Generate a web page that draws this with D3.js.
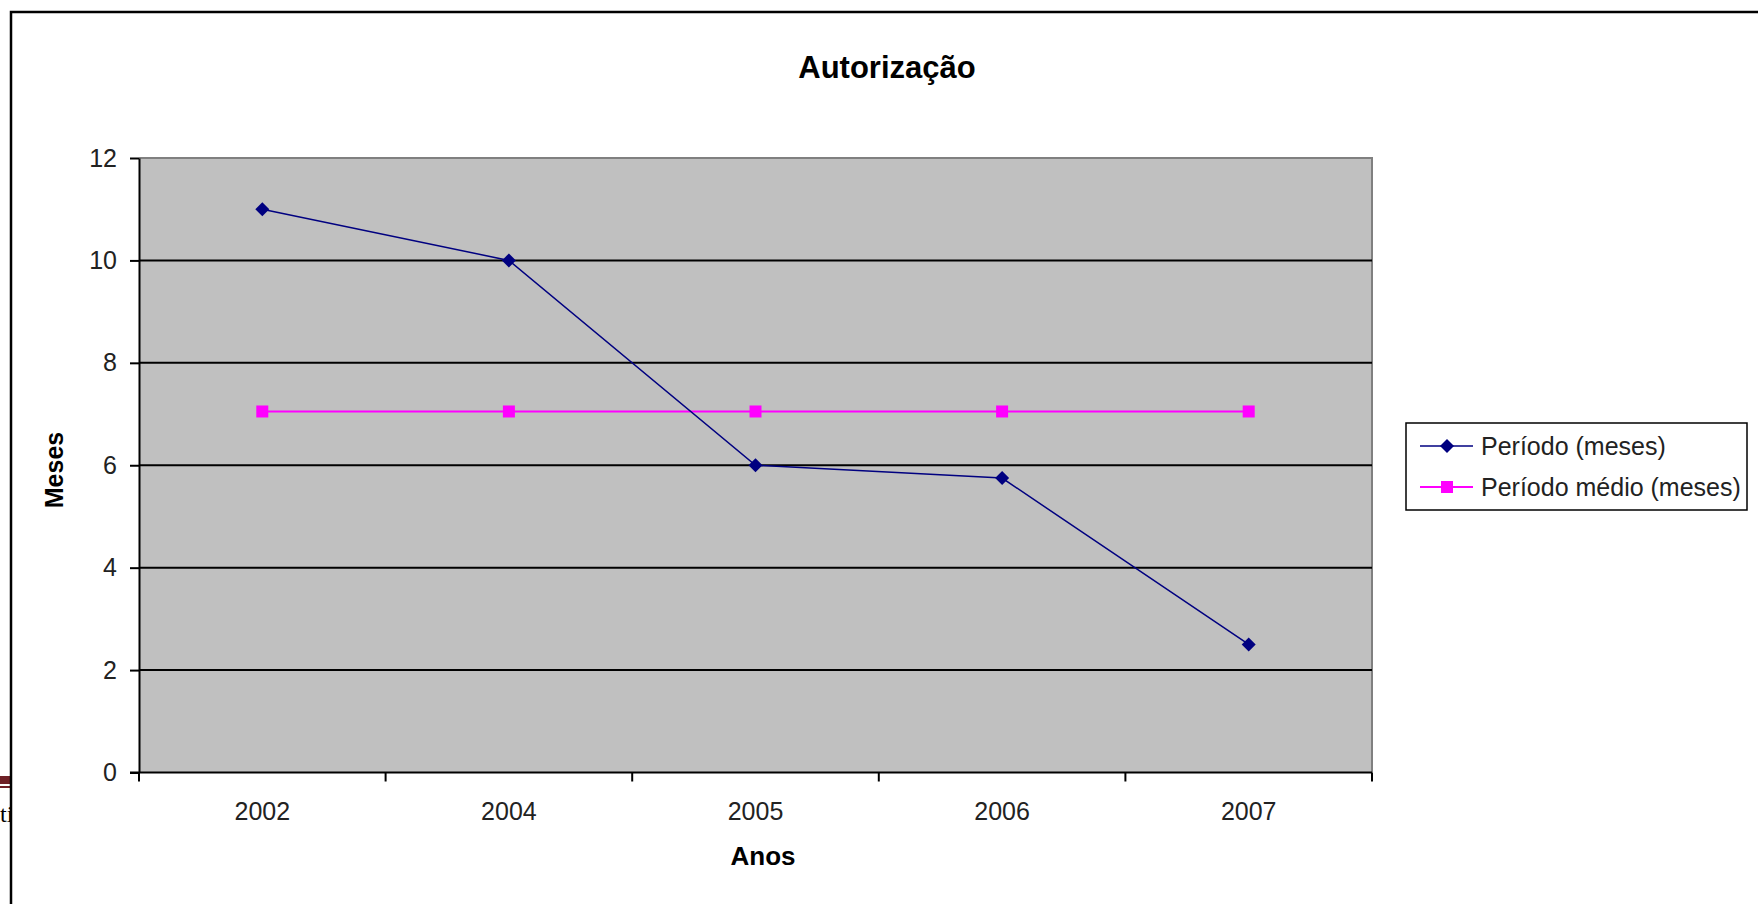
<!DOCTYPE html>
<meta charset="utf-8">
<script src="https://d3js.org/d3.v7.min.js"></script>
<style>
body { margin: 0; background: #fff; }
svg { display: block; font-family: "Liberation Sans", Arial, sans-serif; }
</style>
<div id="chart"></div>
<script>
// data
var anos = ["2002", "2004", "2005", "2006", "2007"];
var periodo = [11, 10, 6, 5.75, 2.5];
var periodoMedio = [7.05, 7.05, 7.05, 7.05, 7.05];
var yTicks = [0, 2, 4, 6, 8, 10, 12];
var seriesNames = ["Período (meses)", "Período médio (meses)"];

var W = 1758, H = 904;
var plot = { left: 139, right: 1372, top: 158, bottom: 772.5 };

var svg = d3.select("#chart").append("svg")
    .attr("width", W).attr("height", H);

// bit of the slide behind, peeking out on the left
svg.append("rect").attr("x", 0).attr("y", 776).attr("width", 11).attr("height", 8).attr("fill", "#6e2026");
svg.append("rect").attr("x", 0).attr("y", 786).attr("width", 11).attr("height", 2).attr("fill", "#6e2026");
svg.append("defs").append("clipPath").attr("id", "leftclip")
  .append("rect").attr("x", 0).attr("y", 790).attr("width", 11).attr("height", 40);
svg.append("text").attr("x", 0).attr("y", 822)
  .attr("clip-path", "url(#leftclip)")
  .style("font-family", "'Liberation Serif', serif").style("font-size", "24px")
  .text("ti");

// chart frame (runs off the right and bottom edges)
svg.append("rect")
    .attr("x", 11).attr("y", 12).attr("width", 1800).attr("height", 1000)
    .attr("fill", "none").attr("stroke", "#000").attr("stroke-width", 2.5);

var x = d3.scaleBand().domain(anos).range([plot.left, plot.right]).padding(0);
var y = d3.scaleLinear().domain([0, 12]).range([plot.bottom, plot.top]);
var cx = function(d) { return x(d) + x.bandwidth() / 2; };

// plot area
svg.append("rect")
    .attr("x", plot.left).attr("y", plot.top)
    .attr("width", plot.right - plot.left).attr("height", plot.bottom - plot.top)
    .attr("fill", "#c0c0c0");
svg.append("path")
    .attr("d", "M" + plot.left + "," + plot.top + "H" + plot.right + "V" + plot.bottom)
    .attr("fill", "none").attr("stroke", "#808080").attr("stroke-width", 2);

// gridlines
svg.append("g").selectAll("line")
  .data(yTicks.filter(function(d) { return d > 0 && d < 12; }))
  .enter().append("line")
    .attr("x1", plot.left).attr("x2", plot.right)
    .attr("y1", function(d) { return y(d); }).attr("y2", function(d) { return y(d); })
    .attr("stroke", "#000").attr("stroke-width", 2);

// y axis
var yAxis = svg.append("g")
    .attr("transform", "translate(" + plot.left + ",0)")
    .call(d3.axisLeft(y).tickValues(yTicks).tickSize(9).tickPadding(13).tickSizeOuter(0));
yAxis.select(".domain").attr("stroke", "#000").attr("stroke-width", 2);
yAxis.selectAll(".tick line").attr("stroke", "#000").attr("stroke-width", 2);
yAxis.selectAll("text").style("font-size", "25px").attr("fill", "#222");

// x axis
var xg = svg.append("g");
xg.append("line")
    .attr("x1", plot.left - 9).attr("x2", plot.right)
    .attr("y1", plot.bottom).attr("y2", plot.bottom)
    .attr("stroke", "#000").attr("stroke-width", 2);
var edges = anos.map(function(d) { return x(d); }).concat([plot.right]);
xg.selectAll(".edge").data(edges).enter().append("line")
    .attr("x1", function(d) { return d; }).attr("x2", function(d) { return d; })
    .attr("y1", plot.bottom).attr("y2", plot.bottom + 9)
    .attr("stroke", "#000").attr("stroke-width", 2);
xg.selectAll(".lbl").data(anos).enter().append("text")
    .attr("x", cx).attr("y", 820)
    .attr("text-anchor", "middle")
    .style("font-size", "25px").attr("fill", "#222")
    .text(function(d) { return d; });

// titles
svg.append("text").attr("x", 887).attr("y", 78).attr("text-anchor", "middle")
    .style("font-size", "31px").style("font-weight", "bold").text("Autorização");
svg.append("text").attr("x", 763).attr("y", 865).attr("text-anchor", "middle")
    .style("font-size", "26px").style("font-weight", "bold").text("Anos");
svg.append("text").attr("transform", "translate(63,470) rotate(-90)").attr("text-anchor", "middle")
    .style("font-size", "25px").style("font-weight", "bold").text("Meses");

// series
var line = d3.line().x(function(d, i) { return cx(anos[i]); }).y(function(d) { return y(d); });

svg.append("path").datum(periodoMedio)
    .attr("d", line).attr("fill", "none").attr("stroke", "#ff00ff").attr("stroke-width", 2);
svg.append("g").selectAll("rect").data(periodoMedio).enter().append("rect")
    .attr("x", function(d, i) { return cx(anos[i]) - 6; })
    .attr("y", function(d) { return y(d) - 6; })
    .attr("width", 12).attr("height", 12).attr("fill", "#ff00ff");

svg.append("path").datum(periodo)
    .attr("d", line).attr("fill", "none").attr("stroke", "#000080").attr("stroke-width", 1.5);
var diamond = "M0,-7L7,0L0,7L-7,0Z";
svg.append("g").selectAll("path").data(periodo).enter().append("path")
    .attr("d", diamond)
    .attr("transform", function(d, i) { return "translate(" + cx(anos[i]) + "," + y(d) + ")"; })
    .attr("fill", "#000080");

// legend
var lg = svg.append("g");
lg.append("rect").attr("x", 1406).attr("y", 423).attr("width", 341).attr("height", 87)
    .attr("fill", "#fff").attr("stroke", "#000").attr("stroke-width", 1.5);
var colors = ["#000080", "#ff00ff"];
var rows = [446, 487];
seriesNames.forEach(function(name, i) {
  var ly = rows[i];
  lg.append("line").attr("x1", 1420).attr("x2", 1473).attr("y1", ly).attr("y2", ly)
    .attr("stroke", colors[i]).attr("stroke-width", i ? 2 : 1.5);
  if (i == 0) {
    lg.append("path").attr("d", diamond).attr("transform", "translate(1447," + ly + ")").attr("fill", colors[i]);
  } else {
    lg.append("rect").attr("x", 1441).attr("y", ly - 6).attr("width", 12).attr("height", 12).attr("fill", colors[i]);
  }
  lg.append("text").attr("x", 1481).attr("y", ly + 9)
    .style("font-size", "25px").attr("fill", "#222").text(name);
});
</script>
